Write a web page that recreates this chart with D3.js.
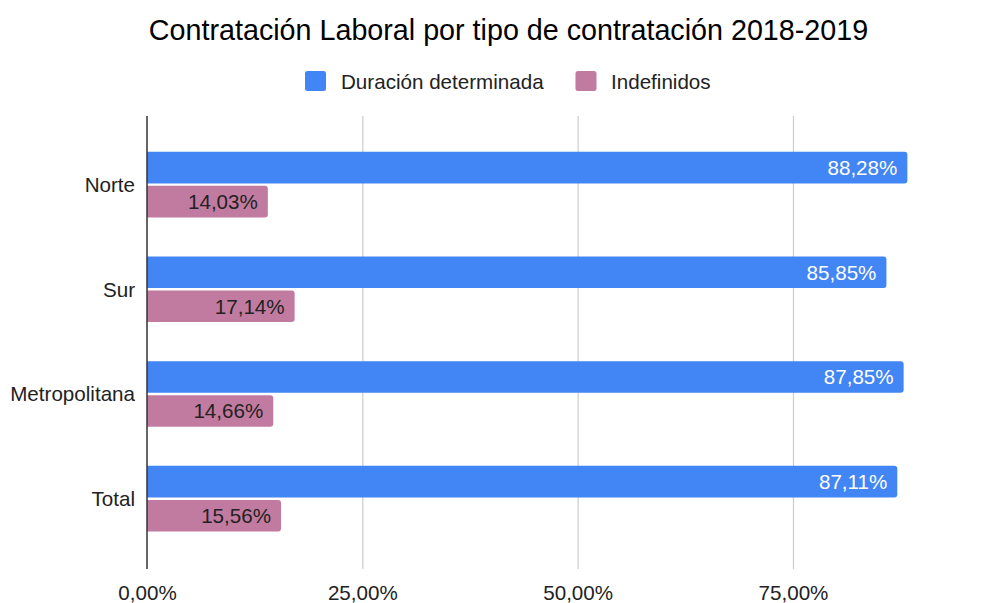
<!DOCTYPE html>
<html>
<head>
<meta charset="utf-8">
<script src="https://cdn.jsdelivr.net/npm/d3@7"></script>
<style>
  html, body { margin: 0; padding: 0; background: #fff; }
  svg { display: block; font-family: "Liberation Sans", Arial, sans-serif; }
</style>
</head>
<body>
<svg id="chart" width="1000" height="603"></svg>
<script>
const title = "Contratación Laboral por tipo de contratación 2018-2019";
const categories = ["Norte", "Sur", "Metropolitana", "Total"];
const seriesNames = ["Duración determinada", "Indefinidos"];
const duracionDeterminada = [88.28, 85.85, 87.85, 87.11];
const indefinidos = [14.03, 17.14, 14.66, 15.56];
const tickValues = [0, 25, 50, 75];
const tickLabels = ["0,00%", "25,00%", "50,00%", "75,00%"];
const colors = ["#4285F4", "#C27BA0"];
const labelColors = ["#ffffff", "#222222"];

const seriesValues = [duracionDeterminada, indefinidos];
const fmt = v => v.toFixed(2).replace(".", ",") + "%";
const FS = 20.6;

const svg = d3.select("#chart");
const plotLeft = 147, plotTop = 116, plotBottom = 569;

const x = d3.scaleLinear().domain([0, 100]).range([plotLeft, 1008.3]);
const y0 = d3.scaleBand().domain(categories).range([132.3, 551]).paddingInner(0).paddingOuter(0);
const y1 = d3.scaleBand().domain(seriesNames).range([y0.bandwidth() / 2 - 32.8, y0.bandwidth() / 2 + 32.8]).paddingInner(0.072).paddingOuter(0);

// Title
svg.append("text")
  .attr("x", 508.5).attr("y", 40)
  .attr("text-anchor", "middle")
  .attr("font-size", 28.7)
  .attr("fill", "#000")
  .text(title);

// Legend
const legendItems = [
  { name: seriesNames[0], sx: 305, tx: 341 },
  { name: seriesNames[1], sx: 575.5, tx: 611 }
];
legendItems.forEach((d, i) => {
  svg.append("rect")
    .attr("x", d.sx).attr("y", 71).attr("width", 21).attr("height", 20)
    .attr("rx", 2.5).attr("fill", colors[i]);
  svg.append("text")
    .attr("x", d.tx).attr("y", 88.5)
    .attr("font-size", FS).attr("fill", "#222")
    .text(d.name);
});

// Gridlines + tick labels via axis
const xAxis = d3.axisBottom(x).tickValues(tickValues)
  .tickFormat((d, i) => tickLabels[i])
  .tickSize(-(plotBottom - plotTop)).tickSizeOuter(0);
const gx = svg.append("g").attr("transform", `translate(0,${plotBottom})`).call(xAxis);
gx.select(".domain").remove();
gx.selectAll(".tick line").attr("stroke", "#cccccc").attr("stroke-width", 1.2);
gx.selectAll(".tick text")
  .attr("font-size", FS).attr("fill", "#222")
  .attr("font-family", "Liberation Sans, Arial, sans-serif")
  .attr("dy", 0)
  .attr("y", 31);
gx.selectAll(".tick").filter(d => d === 0).select("line").remove();

// Bars
function roundedRight(x0, yTop, w, h, r) {
  r = Math.min(r, w, h / 2);
  return `M${x0},${yTop}H${x0 + w - r}Q${x0 + w},${yTop} ${x0 + w},${yTop + r}` +
         `V${yTop + h - r}Q${x0 + w},${yTop + h} ${x0 + w - r},${yTop + h}H${x0}Z`;
}

const groups = svg.append("g").selectAll("g")
  .data(categories).join("g")
  .attr("transform", d => `translate(0,${y0(d)})`);

seriesNames.forEach((s, si) => {
  groups.append("path")
    .attr("d", (c, ci) => roundedRight(x(0), y1(s), x(seriesValues[si][ci]) - x(0), y1.bandwidth(), 3))
    .attr("fill", colors[si]);
  groups.append("text")
    .attr("x", (c, ci) => x(seriesValues[si][ci]) - 10)
    .attr("y", y1(s) + y1.bandwidth() / 2)
    .attr("dy", "0.36em")
    .attr("text-anchor", "end")
    .attr("font-size", FS)
    .attr("fill", labelColors[si])
    .text((c, ci) => fmt(seriesValues[si][ci]));
});

// Y axis
const yAxis = d3.axisLeft(y0).tickSize(0).tickPadding(12);
const gy = svg.append("g").attr("transform", `translate(${plotLeft},0)`).call(yAxis);
gy.select(".domain").remove();
gy.selectAll(".tick text")
  .attr("font-size", FS).attr("fill", "#222")
  .attr("font-family", "Liberation Sans, Arial, sans-serif")
  .attr("dy", "0.36em");

// Vertical axis line
svg.append("line")
  .attr("x1", plotLeft).attr("x2", plotLeft)
  .attr("y1", plotTop).attr("y2", plotBottom)
  .attr("stroke", "#333").attr("stroke-width", 1.5);
</script>
</body>
</html>
